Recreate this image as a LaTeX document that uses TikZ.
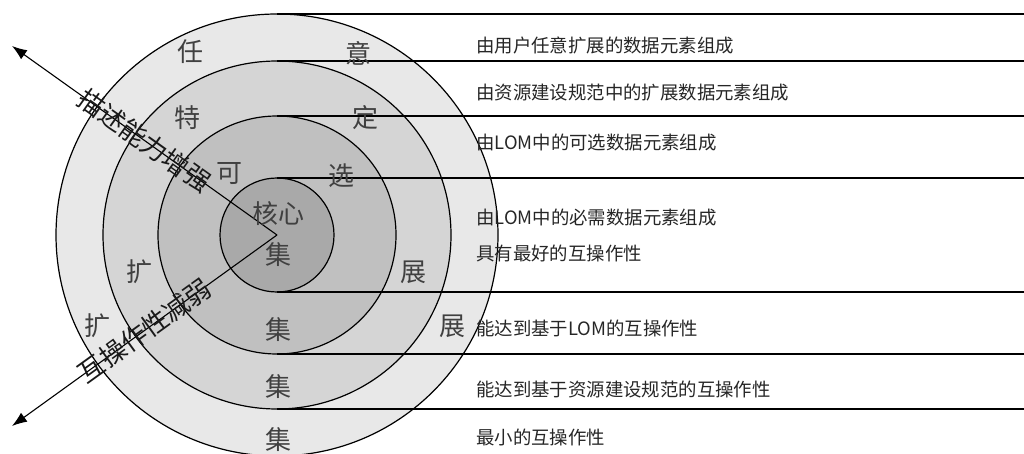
\documentclass[tikz,border=0pt]{standalone}
\usepackage{fontspec}
\setmainfont{Noto Sans CJK SC}
\usetikzlibrary{arrows.meta}
\definecolor{ringA}{HTML}{E8E8E8}
\definecolor{ringB}{HTML}{D5D5D5}
\definecolor{ringC}{HTML}{C0C0C0}
\definecolor{ringD}{HTML}{A9A9A9}
\begin{document}
\begin{tikzpicture}[x=1pt,y=-1pt,
  ring/.style={circle, draw=black, line width=1.2pt, inner sep=0pt, outer sep=0pt},
  hline/.style={line width=1.4pt},
  rch/.style={font=\fontsize{26}{26}\selectfont, text=black!75, inner sep=0pt},
  desc/.style={font=\fontsize{18.4}{18.4}\selectfont, text=black!85, anchor=west, inner sep=0pt},
  axisarrow/.style={line width=1.1pt, -{Latex[length=15pt,width=11pt]}},
  axlabel/.style={font=\fontsize{26}{26}\selectfont, text=black!90, inner sep=0pt, sloped}]
\useasboundingbox (0,0) rectangle (1024,454);
\coordinate (ctr) at (277,235);
\coordinate (rx) at (1024,0);
% rings
\node[ring, fill=ringA, minimum size=442pt] (r1) at (ctr) {};
\node[ring, fill=ringB, minimum size=348pt] (r2) at (ctr) {};
\node[ring, fill=ringC, minimum size=238pt] (r3) at (ctr) {};
\node[ring, fill=ringD, minimum size=114pt] (r4) at (ctr) {};
% horizontal separators
\draw[hline] (r1.north) -- (r1.north -| rx);
\draw[hline] (r2.north) -- (r2.north -| rx);
\draw[hline] (r3.north) -- (r3.north -| rx);
\draw[hline] (r4.north) -- (r4.north -| rx);
\draw[hline] (r4.south) -- (r4.south -| rx);
\draw[hline] (r3.south) -- (r3.south -| rx);
\draw[hline] (r2.south) -- (r2.south -| rx);
% arrows
\coordinate (tipA) at (12,46);
\coordinate (tipB) at (12,426);
\draw[axisarrow] (ctr) -- node[axlabel, pos=0.5] (la) {描述能力增强} (tipA);
\draw[axisarrow] (ctr) -- node[axlabel, pos=0.5] (lb) {互操作性减弱} (tipB);
% ring characters
\node[rch] (t1) at (190,52) {任};
\node[rch] (t2) at (358,53) {意};
\node[rch] (t3) at (187,118) {特};
\node[rch] (t4) at (365,118) {定};
\node[rch] (t5) at (229,174) {可};
\node[rch] (t6) at (341,176) {选};
\node[rch] (t7) at (278,214) {核心};
\node[rch] (t8) at (278,255) {集};
\node[rch] (t9) at (139,272) {扩};
\node[rch] (t10) at (413,272) {展};
\node[rch] (t11) at (97,326) {扩};
\node[rch] (t12) at (452,326) {展};
\node[rch] (t13) at (278,330) {集};
\node[rch] (t14) at (278,387) {集};
\node[rch] (t15) at (278,440) {集};
% descriptions
\node[desc] (d1) at (476,45) {由用户任意扩展的数据元素组成};
\node[desc] (d2) at (476,93) {由资源建设规范中的扩展数据元素组成};
\node[desc] (d3) at (476,143) {由LOM中的可选数据元素组成};
\node[desc] (d4) at (476,218) {由LOM中的必需数据元素组成};
\node[desc] (d5) at (476,253) {具有最好的互操作性};
\node[desc] (d6) at (476,328) {能达到基于LOM的互操作性};
\node[desc] (d7) at (476,389) {能达到基于资源建设规范的互操作性};
\node[desc] (d8) at (476,437) {最小的互操作性};
\end{tikzpicture}
\end{document}
